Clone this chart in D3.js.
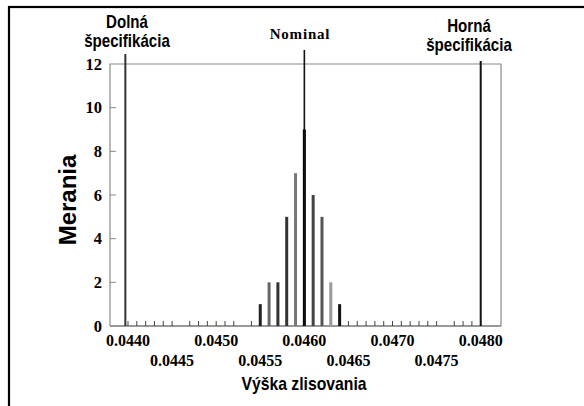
<!DOCTYPE html>
<html><head><meta charset="utf-8">
<script src="https://cdn.jsdelivr.net/npm/d3@7"></script>
<style>
html,body{margin:0;padding:0;background:#fff;}
svg{display:block;}
</style></head>
<body>
<script>
// ---- data ----
const bins   = [0.0455, 0.0456, 0.0457, 0.0458, 0.0459, 0.0460, 0.0461, 0.0462, 0.0463, 0.0464];
const counts = [1, 2, 2, 5, 7, 9, 6, 5, 2, 1];
const yTicks = [0, 2, 4, 6, 8, 10, 12];
const xTicksRow1 = ["0.0440", "0.0450", "0.0460", "0.0470", "0.0480"];
const xTicksRow2 = ["0.0445", "0.0455", "0.0465", "0.0475"];
const lowerSpec = 0.04397, nominal = 0.0460, upperSpec = 0.0480;
const minorFaint = [0.0446, 0.0453, 0.0476];
const barColors = ["#222", "#666", "#333", "#333", "#777", "#000", "#444", "#555", "#999", "#111"];

const W = 584, H = 406;
const svg = d3.select("body").append("svg").attr("width", W).attr("height", H);

const x = d3.scaleLinear().domain([0.0440, 0.0480]).range([128, 480.7]);
const y = d3.scaleLinear().domain([0, 12]).range([326, 64]);
const left = 110, right = 501;

// outer frame
svg.append("rect").attr("x", 9).attr("y", 7).attr("width", 700).attr("height", 500)
  .attr("fill", "none").attr("stroke", "#000").attr("stroke-width", 2.2);

// plot box
svg.append("path")
  .attr("d", `M${left},${y(0)}V${y(12)}H${right}V${y(0)}`)
  .attr("fill", "none").attr("stroke", "#8a8a8a").attr("stroke-width", 1.2);
svg.append("line").attr("x1", left).attr("x2", right).attr("y1", y(0)).attr("y2", y(0))
  .attr("stroke", "#777").attr("stroke-width", 1.5);

const serif = "'Liberation Serif','Times New Roman',serif";
const sans = "'Liberation Sans',Arial,sans-serif";

// y axis ticks (inward) and labels
svg.append("g").selectAll("line").data(yTicks.slice(1, -1)).join("line")
  .attr("x1", left).attr("x2", left + 6).attr("y1", d => y(d)).attr("y2", d => y(d))
  .attr("stroke", "#888").attr("stroke-width", 1);
svg.append("g").selectAll("text").data(yTicks).join("text")
  .attr("x", 102).attr("y", d => y(d) + 5.5)
  .attr("text-anchor", "end").attr("font-family", serif).attr("font-weight", "bold")
  .attr("font-size", 16.5).text(d => d);

// x minor ticks
const minor = d3.range(0, 41).map(i => +(0.0440 + i * 0.0001).toFixed(4));
svg.append("g").selectAll("line").data(minor).join("line")
  .attr("x1", d => x(d)).attr("x2", d => x(d))
  .attr("y1", y(0)).attr("y2", d => minorFaint.includes(d) ? y(0) - 1.5 : y(0) - 5)
  .attr("stroke", d => minorFaint.includes(d) ? "#bbb" : "#444").attr("stroke-width", 1);

// x labels
svg.append("g").selectAll("text").data(xTicksRow1).join("text")
  .attr("x", d => x(+d)).attr("y", 346).attr("text-anchor", "middle")
  .attr("font-family", serif).attr("font-weight", "bold").attr("font-size", 16).text(d => d);
svg.append("g").selectAll("text").data(xTicksRow2).join("text")
  .attr("x", d => x(+d)).attr("y", 366).attr("text-anchor", "middle")
  .attr("font-family", serif).attr("font-weight", "bold").attr("font-size", 16).text(d => d);

// bars
svg.append("g").selectAll("rect").data(bins).join("rect")
  .attr("x", d => x(d) - 1.5).attr("width", 3)
  .attr("y", (d, i) => y(counts[i])).attr("height", (d, i) => y(0) - y(counts[i]))
  .attr("fill", (d, i) => barColors[i]);

// spec lines
svg.append("line").attr("x1", x(lowerSpec)).attr("x2", x(lowerSpec)).attr("y1", 54).attr("y2", y(0))
  .attr("stroke", "#333").attr("stroke-width", 2);
svg.append("line").attr("x1", x(upperSpec)).attr("x2", x(upperSpec)).attr("y1", 61).attr("y2", y(0))
  .attr("stroke", "#111").attr("stroke-width", 2);
svg.append("line").attr("x1", x(nominal)).attr("x2", x(nominal)).attr("y1", 50).attr("y2", y(0))
  .attr("stroke", "#111").attr("stroke-width", 1.6);

// condensed sans text helper
function cText(cx, cy, str, size, sx) {
  svg.append("g").attr("transform", `translate(${cx},${cy}) scale(${sx},1)`)
    .append("text").attr("text-anchor", "middle")
    .attr("font-family", sans).attr("font-weight", "bold").attr("font-size", size).text(str);
}
cText(127, 28, "Dolná", 18, 0.84);
cText(127, 47, "špecifikácia", 18, 0.84);
cText(469, 32, "Horná", 18, 0.84);
cText(469, 51, "špecifikácia", 18, 0.84);
svg.append("text").attr("x", 300).attr("y", 39).attr("text-anchor", "middle")
  .attr("font-family", serif).attr("font-weight", "bold").attr("font-size", 15)
  .attr("letter-spacing", 0.8).text("Nominal");

// axis titles
cText(304, 390, "Výška zlisovania", 19, 0.83);
svg.append("text").attr("transform", "translate(76,200) rotate(-90)").attr("text-anchor", "middle")
  .attr("font-family", sans).attr("font-weight", "bold").attr("font-size", 24).text("Merania");
</script>
</body></html>
